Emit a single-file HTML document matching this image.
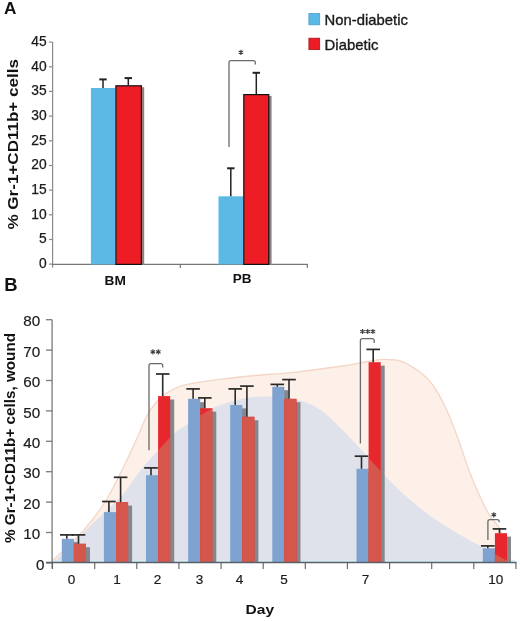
<!DOCTYPE html>
<html><head><meta charset="utf-8"><style>
html,body{margin:0;padding:0;background:#fff;width:520px;height:621px;overflow:hidden;}
svg{display:block;font-family:"Liberation Sans", sans-serif;will-change:transform;}
</style></head><body>
<svg width="520" height="621" viewBox="0 0 520 621">
<rect width="520" height="621" fill="#fff"/>
<text x="4" y="14.4" font-size="17.2" font-weight="bold" fill="#111">A</text>
<text x="4.3" y="290.9" font-size="18.4" font-weight="bold" fill="#111">B</text>
<line x1="52.6" y1="42" x2="52.6" y2="267.8" stroke="#8a8a8a" stroke-width="1.2"/>
<line x1="49" y1="42.1" x2="52.6" y2="42.1" stroke="#8a8a8a" stroke-width="1.2"/>
<text x="46.6" y="45.8" font-size="13.8" text-anchor="end" fill="#1a1a1a" stroke="#1a1a1a" stroke-width="0.25">45</text>
<line x1="49" y1="66.8" x2="52.6" y2="66.8" stroke="#8a8a8a" stroke-width="1.2"/>
<text x="46.6" y="70.5" font-size="13.8" text-anchor="end" fill="#1a1a1a" stroke="#1a1a1a" stroke-width="0.25">40</text>
<line x1="49" y1="91.4" x2="52.6" y2="91.4" stroke="#8a8a8a" stroke-width="1.2"/>
<text x="46.6" y="95.1" font-size="13.8" text-anchor="end" fill="#1a1a1a" stroke="#1a1a1a" stroke-width="0.25">35</text>
<line x1="49" y1="116.1" x2="52.6" y2="116.1" stroke="#8a8a8a" stroke-width="1.2"/>
<text x="46.6" y="119.8" font-size="13.8" text-anchor="end" fill="#1a1a1a" stroke="#1a1a1a" stroke-width="0.25">30</text>
<line x1="49" y1="140.8" x2="52.6" y2="140.8" stroke="#8a8a8a" stroke-width="1.2"/>
<text x="46.6" y="144.5" font-size="13.8" text-anchor="end" fill="#1a1a1a" stroke="#1a1a1a" stroke-width="0.25">25</text>
<line x1="49" y1="165.5" x2="52.6" y2="165.5" stroke="#8a8a8a" stroke-width="1.2"/>
<text x="46.6" y="169.2" font-size="13.8" text-anchor="end" fill="#1a1a1a" stroke="#1a1a1a" stroke-width="0.25">20</text>
<line x1="49" y1="190.1" x2="52.6" y2="190.1" stroke="#8a8a8a" stroke-width="1.2"/>
<text x="46.6" y="193.8" font-size="13.8" text-anchor="end" fill="#1a1a1a" stroke="#1a1a1a" stroke-width="0.25">15</text>
<line x1="49" y1="214.8" x2="52.6" y2="214.8" stroke="#8a8a8a" stroke-width="1.2"/>
<text x="46.6" y="218.5" font-size="13.8" text-anchor="end" fill="#1a1a1a" stroke="#1a1a1a" stroke-width="0.25">10</text>
<line x1="49" y1="239.5" x2="52.6" y2="239.5" stroke="#8a8a8a" stroke-width="1.2"/>
<text x="46.6" y="243.2" font-size="13.8" text-anchor="end" fill="#1a1a1a" stroke="#1a1a1a" stroke-width="0.25">5</text>
<line x1="49" y1="264.1" x2="52.6" y2="264.1" stroke="#8a8a8a" stroke-width="1.2"/>
<text x="46.6" y="267.8" font-size="13.8" text-anchor="end" fill="#1a1a1a" stroke="#1a1a1a" stroke-width="0.25">0</text>
<line x1="52" y1="264.4" x2="307.6" y2="264.4" stroke="#777" stroke-width="1.3"/>
<line x1="180.3" y1="264" x2="180.3" y2="268" stroke="#777" stroke-width="1.2"/>
<line x1="307.3" y1="264" x2="307.3" y2="268" stroke="#777" stroke-width="1.2"/>
<rect x="90.9" y="88.0" width="24.4" height="176.4" fill="#5cb8e4"/>
<rect x="117.5" y="87.2" width="26.7" height="177.4" fill="#8a8488"/>
<rect x="115.9" y="85.8" width="25.5" height="178.6" fill="#ee1c25" stroke="#111" stroke-width="1.2"/>
<rect x="218.5" y="196.3" width="24.7" height="68.1" fill="#5cb8e4"/>
<rect x="245.4" y="96.0" width="26.2" height="168.6" fill="#8a8488"/>
<rect x="243.8" y="94.6" width="25.0" height="169.8" fill="#ee1c25" stroke="#111" stroke-width="1.2"/>
<line x1="103.0" y1="79.4" x2="103.0" y2="88.0" stroke="#222" stroke-width="1.5"/>
<line x1="99.3" y1="79.4" x2="106.7" y2="79.4" stroke="#222" stroke-width="2"/>
<line x1="128.3" y1="78.1" x2="128.3" y2="85.2" stroke="#222" stroke-width="1.5"/>
<line x1="124.6" y1="78.1" x2="132.0" y2="78.1" stroke="#222" stroke-width="2"/>
<line x1="230.8" y1="168.3" x2="230.8" y2="196.3" stroke="#222" stroke-width="1.5"/>
<line x1="227.1" y1="168.3" x2="234.5" y2="168.3" stroke="#222" stroke-width="2"/>
<line x1="256.3" y1="72.8" x2="256.3" y2="94.0" stroke="#222" stroke-width="1.5"/>
<line x1="252.6" y1="72.8" x2="260.0" y2="72.8" stroke="#222" stroke-width="2"/>
<path d="M229.0,147.0 V62.6 Q229.0,60.6 231.0,60.6 H253.3 Q255.3,60.6 255.3,62.6 V64.5" fill="none" stroke="#6a6a6a" stroke-width="1.3"/>
<path d="M240.90,49.70 L240.90,54.90 M238.65,51.00 L243.15,53.60 M243.15,51.00 L238.65,53.60" stroke="#3a3a3a" stroke-width="1.1" fill="none"/>
<text x="115.2" y="285" font-size="13.7" font-weight="bold" text-anchor="middle" fill="#111">BM</text>
<text x="242.1" y="282.8" font-size="13.5" font-weight="bold" text-anchor="middle" fill="#111">PB</text>
<text transform="translate(17.8,144.3) rotate(-90)" font-size="13.8" font-weight="bold" text-anchor="middle" textLength="170.5" lengthAdjust="spacingAndGlyphs" fill="#111">% Gr-1+CD11b+ cells</text>
<rect x="308.9" y="13.5" width="10.8" height="11.3" fill="#5cb8e4" stroke="#4a9fcc" stroke-width="0.8"/>
<rect x="308.9" y="38.2" width="10.8" height="11.4" fill="#ee1c25" stroke="#a8141c" stroke-width="0.8"/>
<text x="324.6" y="25.2" font-size="14.6" textLength="83.3" lengthAdjust="spacingAndGlyphs" fill="#1a1a1a" stroke="#1a1a1a" stroke-width="0.35">Non-diabetic</text>
<text x="324.6" y="49.9" font-size="14.6" textLength="53.8" lengthAdjust="spacingAndGlyphs" fill="#1a1a1a" stroke="#1a1a1a" stroke-width="0.35">Diabetic</text>
<defs><clipPath id="gclip"><path d="M52.5,563.0 C53.4,562.2 52.0,563.9 58.0,558.0 C64.0,552.1 78.0,537.8 88.5,527.5 C99.0,517.2 112.2,506.2 121.0,496.5 C129.8,486.8 134.5,477.5 141.0,469.5 C147.5,461.5 154.5,454.5 160.0,448.5 C165.5,442.5 169.3,437.6 174.0,433.5 C178.7,429.4 182.7,427.6 188.0,424.0 C193.3,420.4 200.4,415.2 206.0,412.0 C211.6,408.8 215.8,406.7 221.5,404.6 C227.2,402.5 234.4,400.5 240.0,399.2 C245.6,397.9 250.3,397.4 255.0,397.0 C259.7,396.6 263.3,396.4 268.0,396.5 C272.7,396.6 277.7,396.8 283.0,397.5 C288.3,398.2 293.8,398.5 300.0,400.5 C306.2,402.5 313.2,404.8 320.0,409.5 C326.8,414.2 333.8,421.4 341.0,428.5 C348.2,435.6 356.2,444.2 363.5,452.0 C370.8,459.8 377.6,468.1 384.6,475.4 C391.7,482.7 398.7,489.7 405.8,496.0 C412.9,502.3 420.0,508.1 427.0,513.4 C434.0,518.6 440.8,523.0 448.0,527.5 C455.2,532.0 463.8,537.1 470.0,540.5 C476.2,543.9 479.8,545.2 485.0,548.0 C490.2,550.8 496.5,555.0 501.0,557.5 C505.5,560.0 510.2,562.1 512.0,563.0 L512.0,563 Z"/></clipPath></defs>
<path d="M52.5,562.5 C52.9,561.8 49.8,563.9 55.0,558.5 C60.2,553.1 75.4,539.8 84.0,530.0 C92.6,520.2 99.7,510.5 106.5,499.5 C113.3,488.5 119.8,474.6 125.0,464.0 C130.2,453.4 134.4,443.9 138.0,436.0 C141.6,428.1 143.2,422.4 146.5,416.5 C149.8,410.6 154.4,404.3 157.7,400.5 C160.9,396.7 162.6,395.8 166.0,393.5 C169.4,391.2 174.0,388.5 178.4,386.8 C182.8,385.1 185.5,384.6 192.4,383.3 C199.3,382.1 209.5,380.6 220.0,379.3 C230.5,378.0 243.1,376.7 255.4,375.5 C267.7,374.3 279.3,373.9 293.8,372.3 C308.3,370.7 330.0,367.8 342.3,366.0 C354.6,364.2 360.6,362.6 367.7,361.5 C374.8,360.4 379.0,359.4 384.6,359.4 C390.2,359.4 395.9,359.4 401.5,361.3 C407.1,363.2 413.3,367.2 418.4,371.0 C423.5,374.8 427.4,377.8 432.0,384.0 C436.6,390.2 441.6,399.2 446.0,408.5 C450.4,417.8 454.6,429.6 458.5,440.0 C462.4,450.4 465.3,460.9 469.2,471.1 C473.1,481.3 478.5,493.4 482.0,501.0 C485.5,508.6 487.6,512.1 490.4,516.5 C493.2,520.9 496.4,523.2 498.8,527.5 C501.2,531.8 503.3,536.1 505.0,542.0 C506.7,547.9 508.3,559.5 509.0,563.0 Z" fill="#fdf0e8"/>
<path d="M52.5,562.5 C52.9,561.8 49.8,563.9 55.0,558.5 C60.2,553.1 75.4,539.8 84.0,530.0 C92.6,520.2 99.7,510.5 106.5,499.5 C113.3,488.5 119.8,474.6 125.0,464.0 C130.2,453.4 134.4,443.9 138.0,436.0 C141.6,428.1 143.2,422.4 146.5,416.5 C149.8,410.6 154.4,404.3 157.7,400.5 C160.9,396.7 162.6,395.8 166.0,393.5 C169.4,391.2 174.0,388.5 178.4,386.8 C182.8,385.1 185.5,384.6 192.4,383.3 C199.3,382.1 209.5,380.6 220.0,379.3 C230.5,378.0 243.1,376.7 255.4,375.5 C267.7,374.3 279.3,373.9 293.8,372.3 C308.3,370.7 330.0,367.8 342.3,366.0 C354.6,364.2 360.6,362.6 367.7,361.5 C374.8,360.4 379.0,359.4 384.6,359.4 C390.2,359.4 395.9,359.4 401.5,361.3 C407.1,363.2 413.3,367.2 418.4,371.0 C423.5,374.8 427.4,377.8 432.0,384.0 C436.6,390.2 441.6,399.2 446.0,408.5 C450.4,417.8 454.6,429.6 458.5,440.0 C462.4,450.4 465.3,460.9 469.2,471.1 C473.1,481.3 478.5,493.4 482.0,501.0 C485.5,508.6 487.6,512.1 490.4,516.5 C493.2,520.9 496.4,523.2 498.8,527.5 C501.2,531.8 503.3,536.1 505.0,542.0 C506.7,547.9 508.3,559.5 509.0,563.0" fill="none" stroke="#f3d6c8" stroke-width="1.3"/>
<path d="M52.5,563.0 C53.4,562.2 52.0,563.9 58.0,558.0 C64.0,552.1 78.0,537.8 88.5,527.5 C99.0,517.2 112.2,506.2 121.0,496.5 C129.8,486.8 134.5,477.5 141.0,469.5 C147.5,461.5 154.5,454.5 160.0,448.5 C165.5,442.5 169.3,437.6 174.0,433.5 C178.7,429.4 182.7,427.6 188.0,424.0 C193.3,420.4 200.4,415.2 206.0,412.0 C211.6,408.8 215.8,406.7 221.5,404.6 C227.2,402.5 234.4,400.5 240.0,399.2 C245.6,397.9 250.3,397.4 255.0,397.0 C259.7,396.6 263.3,396.4 268.0,396.5 C272.7,396.6 277.7,396.8 283.0,397.5 C288.3,398.2 293.8,398.5 300.0,400.5 C306.2,402.5 313.2,404.8 320.0,409.5 C326.8,414.2 333.8,421.4 341.0,428.5 C348.2,435.6 356.2,444.2 363.5,452.0 C370.8,459.8 377.6,468.1 384.6,475.4 C391.7,482.7 398.7,489.7 405.8,496.0 C412.9,502.3 420.0,508.1 427.0,513.4 C434.0,518.6 440.8,523.0 448.0,527.5 C455.2,532.0 463.8,537.1 470.0,540.5 C476.2,543.9 479.8,545.2 485.0,548.0 C490.2,550.8 496.5,555.0 501.0,557.5 C505.5,560.0 510.2,562.1 512.0,563.0 L512.0,563 Z" fill="#dfe2eb"/>
<rect x="53" y="560.2" width="462" height="1.4" fill="#d4ebf3"/>
<rect x="65.8" y="542.1" width="12.1" height="20.7" fill="#86878c"/>
<rect x="77.9" y="547.2" width="12.1" height="15.7" fill="#86878c"/>
<rect x="61.8" y="538.8" width="12.1" height="24.1" fill="#7ea3d0"/>
<rect x="73.9" y="543.8" width="12.1" height="19.1" fill="#e8272c"/>
<rect x="73.9" y="543.8" width="12.1" height="19.1" fill="#d5574c" clip-path="url(#gclip)"/>
<rect x="107.9" y="515.5" width="12.1" height="47.4" fill="#86878c"/>
<rect x="120.0" y="505.6" width="12.1" height="57.3" fill="#86878c"/>
<rect x="103.9" y="512.1" width="12.1" height="50.8" fill="#7ea3d0"/>
<rect x="116.0" y="502.2" width="12.1" height="60.7" fill="#e8272c"/>
<rect x="116.0" y="502.2" width="12.1" height="60.7" fill="#d5574c" clip-path="url(#gclip)"/>
<rect x="150.0" y="478.6" width="12.1" height="84.3" fill="#86878c"/>
<rect x="162.1" y="399.5" width="12.1" height="163.4" fill="#86878c"/>
<rect x="146.0" y="475.2" width="12.1" height="87.7" fill="#7ea3d0"/>
<rect x="158.1" y="396.1" width="12.1" height="166.8" fill="#e8272c"/>
<rect x="158.1" y="396.1" width="12.1" height="166.8" fill="#d5574c" clip-path="url(#gclip)"/>
<rect x="192.1" y="402.2" width="12.1" height="160.7" fill="#86878c"/>
<rect x="204.2" y="411.6" width="12.1" height="151.3" fill="#86878c"/>
<rect x="188.1" y="398.8" width="12.1" height="164.1" fill="#7ea3d0"/>
<rect x="200.2" y="408.2" width="12.1" height="154.7" fill="#e8272c"/>
<rect x="200.2" y="408.2" width="12.1" height="154.7" fill="#d5574c" clip-path="url(#gclip)"/>
<rect x="234.2" y="408.4" width="12.1" height="154.5" fill="#86878c"/>
<rect x="246.3" y="420.2" width="12.1" height="142.7" fill="#86878c"/>
<rect x="230.2" y="405.0" width="12.1" height="157.9" fill="#7ea3d0"/>
<rect x="242.3" y="416.8" width="12.1" height="146.1" fill="#e8272c"/>
<rect x="242.3" y="416.8" width="12.1" height="146.1" fill="#d5574c" clip-path="url(#gclip)"/>
<rect x="276.3" y="390.2" width="12.1" height="172.7" fill="#86878c"/>
<rect x="288.4" y="402.2" width="12.1" height="160.7" fill="#86878c"/>
<rect x="272.3" y="386.8" width="12.1" height="176.1" fill="#7ea3d0"/>
<rect x="284.4" y="398.8" width="12.1" height="164.1" fill="#e8272c"/>
<rect x="284.4" y="398.8" width="12.1" height="164.1" fill="#d5574c" clip-path="url(#gclip)"/>
<rect x="360.5" y="472.2" width="12.1" height="90.7" fill="#86878c"/>
<rect x="372.6" y="365.6" width="12.1" height="197.3" fill="#86878c"/>
<rect x="356.5" y="468.8" width="12.1" height="94.1" fill="#7ea3d0"/>
<rect x="368.6" y="362.2" width="12.1" height="200.7" fill="#e8272c"/>
<rect x="368.6" y="362.2" width="12.1" height="200.7" fill="#d5574c" clip-path="url(#gclip)"/>
<rect x="486.8" y="551.7" width="12.1" height="11.2" fill="#86878c"/>
<rect x="498.9" y="536.6" width="12.1" height="26.3" fill="#86878c"/>
<rect x="482.8" y="548.3" width="12.1" height="14.6" fill="#7ea3d0"/>
<rect x="494.9" y="533.2" width="12.1" height="29.7" fill="#e8272c"/>
<rect x="494.9" y="533.2" width="12.1" height="29.7" fill="#d5574c" clip-path="url(#gclip)"/>
<line x1="66.8" y1="534.9" x2="66.8" y2="538.8" stroke="#2a2a2a" stroke-width="1.6"/>
<line x1="60.0" y1="534.9" x2="73.6" y2="534.9" stroke="#2a2a2a" stroke-width="1.7"/>
<line x1="78.5" y1="534.9" x2="78.5" y2="543.8" stroke="#2a2a2a" stroke-width="1.6"/>
<line x1="71.7" y1="534.9" x2="85.3" y2="534.9" stroke="#2a2a2a" stroke-width="1.7"/>
<line x1="108.9" y1="501.5" x2="108.9" y2="512.1" stroke="#2a2a2a" stroke-width="1.6"/>
<line x1="102.1" y1="501.5" x2="115.7" y2="501.5" stroke="#2a2a2a" stroke-width="1.7"/>
<line x1="120.6" y1="477.3" x2="120.6" y2="502.2" stroke="#2a2a2a" stroke-width="1.6"/>
<line x1="113.8" y1="477.3" x2="127.4" y2="477.3" stroke="#2a2a2a" stroke-width="1.7"/>
<line x1="151.0" y1="467.9" x2="151.0" y2="475.2" stroke="#2a2a2a" stroke-width="1.6"/>
<line x1="144.2" y1="467.9" x2="157.8" y2="467.9" stroke="#2a2a2a" stroke-width="1.7"/>
<line x1="162.7" y1="374.0" x2="162.7" y2="396.1" stroke="#2a2a2a" stroke-width="1.6"/>
<line x1="155.9" y1="374.0" x2="169.5" y2="374.0" stroke="#2a2a2a" stroke-width="1.7"/>
<line x1="193.1" y1="388.9" x2="193.1" y2="398.8" stroke="#2a2a2a" stroke-width="1.6"/>
<line x1="186.3" y1="388.9" x2="199.9" y2="388.9" stroke="#2a2a2a" stroke-width="1.7"/>
<line x1="204.8" y1="397.9" x2="204.8" y2="408.2" stroke="#2a2a2a" stroke-width="1.6"/>
<line x1="198.0" y1="397.9" x2="211.6" y2="397.9" stroke="#2a2a2a" stroke-width="1.7"/>
<line x1="235.2" y1="388.9" x2="235.2" y2="405.0" stroke="#2a2a2a" stroke-width="1.6"/>
<line x1="228.4" y1="388.9" x2="242.0" y2="388.9" stroke="#2a2a2a" stroke-width="1.7"/>
<line x1="246.9" y1="386.1" x2="246.9" y2="416.8" stroke="#2a2a2a" stroke-width="1.6"/>
<line x1="240.1" y1="386.1" x2="253.7" y2="386.1" stroke="#2a2a2a" stroke-width="1.7"/>
<line x1="277.3" y1="384.4" x2="277.3" y2="386.8" stroke="#2a2a2a" stroke-width="1.6"/>
<line x1="270.5" y1="384.4" x2="284.1" y2="384.4" stroke="#2a2a2a" stroke-width="1.7"/>
<line x1="289.0" y1="379.6" x2="289.0" y2="398.8" stroke="#2a2a2a" stroke-width="1.6"/>
<line x1="282.2" y1="379.6" x2="295.8" y2="379.6" stroke="#2a2a2a" stroke-width="1.7"/>
<line x1="361.5" y1="456.2" x2="361.5" y2="468.8" stroke="#2a2a2a" stroke-width="1.6"/>
<line x1="354.7" y1="456.2" x2="368.3" y2="456.2" stroke="#2a2a2a" stroke-width="1.7"/>
<line x1="373.2" y1="349.4" x2="373.2" y2="362.2" stroke="#2a2a2a" stroke-width="1.6"/>
<line x1="366.4" y1="349.4" x2="380.0" y2="349.4" stroke="#2a2a2a" stroke-width="1.7"/>
<line x1="487.8" y1="545.9" x2="487.8" y2="548.3" stroke="#2a2a2a" stroke-width="1.6"/>
<line x1="481.0" y1="545.9" x2="494.6" y2="545.9" stroke="#2a2a2a" stroke-width="1.7"/>
<line x1="499.5" y1="528.9" x2="499.5" y2="533.2" stroke="#2a2a2a" stroke-width="1.6"/>
<line x1="492.7" y1="528.9" x2="506.3" y2="528.9" stroke="#2a2a2a" stroke-width="1.7"/>
<path d="M149.0,450.2 V365.6 Q149.0,363.6 151.0,363.6 H160.7 Q162.7,363.6 162.7,365.6 V367.5" fill="none" stroke="#6a6a6a" stroke-width="1.3"/>
<path d="M152.90,349.30 L152.90,354.50 M150.65,350.60 L155.15,353.20 M155.15,350.60 L150.65,353.20" stroke="#3a3a3a" stroke-width="1.1" fill="none"/>
<path d="M158.30,349.30 L158.30,354.50 M156.05,350.60 L160.55,353.20 M160.55,350.60 L156.05,353.20" stroke="#3a3a3a" stroke-width="1.1" fill="none"/>
<path d="M360.4,443.4 V340.6 Q360.4,338.6 362.4,338.6 H372.2 Q374.2,338.6 374.2,340.6 V342.9" fill="none" stroke="#6a6a6a" stroke-width="1.3"/>
<path d="M362.50,328.90 L362.50,334.10 M360.25,330.20 L364.75,332.80 M364.75,330.20 L360.25,332.80" stroke="#3a3a3a" stroke-width="1.1" fill="none"/>
<path d="M367.70,328.90 L367.70,334.10 M365.45,330.20 L369.95,332.80 M369.95,330.20 L365.45,332.80" stroke="#3a3a3a" stroke-width="1.1" fill="none"/>
<path d="M372.90,328.90 L372.90,334.10 M370.65,330.20 L375.15,332.80 M375.15,330.20 L370.65,332.80" stroke="#3a3a3a" stroke-width="1.1" fill="none"/>
<path d="M487.9,540.0 V521.7 Q487.9,519.7 489.9,519.7 H497.2 Q499.2,519.7 499.2,521.7 V522.3" fill="none" stroke="#6a6a6a" stroke-width="1.3"/>
<path d="M493.80,512.20 L493.80,517.40 M491.55,513.50 L496.05,516.10 M496.05,513.50 L491.55,516.10" stroke="#3a3a3a" stroke-width="1.1" fill="none"/>
<line x1="52.1" y1="319.7" x2="52.1" y2="568.5" stroke="#7a7a7a" stroke-width="1.3"/>
<line x1="46" y1="562.9" x2="52.1" y2="562.9" stroke="#7a7a7a" stroke-width="1.3"/>
<text x="44.4" y="569.6" font-size="15.2" text-anchor="end" fill="#1a1a1a" stroke="#1a1a1a" stroke-width="0.2">0</text>
<line x1="46" y1="532.5" x2="52.1" y2="532.5" stroke="#7a7a7a" stroke-width="1.3"/>
<text x="40.2" y="539.2" font-size="15.2" text-anchor="end" fill="#1a1a1a" stroke="#1a1a1a" stroke-width="0.2">10</text>
<line x1="46" y1="502.1" x2="52.1" y2="502.1" stroke="#7a7a7a" stroke-width="1.3"/>
<text x="40.2" y="508.8" font-size="15.2" text-anchor="end" fill="#1a1a1a" stroke="#1a1a1a" stroke-width="0.2">20</text>
<line x1="46" y1="471.7" x2="52.1" y2="471.7" stroke="#7a7a7a" stroke-width="1.3"/>
<text x="40.2" y="478.4" font-size="15.2" text-anchor="end" fill="#1a1a1a" stroke="#1a1a1a" stroke-width="0.2">30</text>
<line x1="46" y1="441.3" x2="52.1" y2="441.3" stroke="#7a7a7a" stroke-width="1.3"/>
<text x="40.2" y="448.0" font-size="15.2" text-anchor="end" fill="#1a1a1a" stroke="#1a1a1a" stroke-width="0.2">40</text>
<line x1="46" y1="410.9" x2="52.1" y2="410.9" stroke="#7a7a7a" stroke-width="1.3"/>
<text x="40.2" y="417.6" font-size="15.2" text-anchor="end" fill="#1a1a1a" stroke="#1a1a1a" stroke-width="0.2">50</text>
<line x1="46" y1="380.5" x2="52.1" y2="380.5" stroke="#7a7a7a" stroke-width="1.3"/>
<text x="40.2" y="387.2" font-size="15.2" text-anchor="end" fill="#1a1a1a" stroke="#1a1a1a" stroke-width="0.2">60</text>
<line x1="46" y1="350.1" x2="52.1" y2="350.1" stroke="#7a7a7a" stroke-width="1.3"/>
<text x="40.2" y="356.8" font-size="15.2" text-anchor="end" fill="#1a1a1a" stroke="#1a1a1a" stroke-width="0.2">70</text>
<line x1="46" y1="319.7" x2="52.1" y2="319.7" stroke="#7a7a7a" stroke-width="1.3"/>
<text x="40.2" y="326.4" font-size="15.2" text-anchor="end" fill="#1a1a1a" stroke="#1a1a1a" stroke-width="0.2">80</text>
<line x1="46" y1="562.5" x2="516.6" y2="562.5" stroke="#59606a" stroke-width="1.5"/>
<line x1="52.5" y1="562.5" x2="52.5" y2="569" stroke="#666" stroke-width="1.15"/>
<line x1="94.7" y1="562.5" x2="94.7" y2="569" stroke="#666" stroke-width="1.15"/>
<line x1="136.8" y1="562.5" x2="136.8" y2="569" stroke="#666" stroke-width="1.15"/>
<line x1="178.9" y1="562.5" x2="178.9" y2="569" stroke="#666" stroke-width="1.15"/>
<line x1="221.1" y1="562.5" x2="221.1" y2="569" stroke="#666" stroke-width="1.15"/>
<line x1="263.2" y1="562.5" x2="263.2" y2="569" stroke="#666" stroke-width="1.15"/>
<line x1="305.3" y1="562.5" x2="305.3" y2="569" stroke="#666" stroke-width="1.15"/>
<line x1="347.4" y1="562.5" x2="347.4" y2="569" stroke="#666" stroke-width="1.15"/>
<line x1="389.6" y1="562.5" x2="389.6" y2="569" stroke="#666" stroke-width="1.15"/>
<line x1="431.7" y1="562.5" x2="431.7" y2="569" stroke="#666" stroke-width="1.15"/>
<line x1="473.8" y1="562.5" x2="473.8" y2="569" stroke="#666" stroke-width="1.15"/>
<line x1="515.9" y1="562.5" x2="515.9" y2="569" stroke="#666" stroke-width="1.15"/>
<text x="71.5" y="583.8" font-size="13.5" text-anchor="middle" fill="#1a1a1a" stroke="#1a1a1a" stroke-width="0.2">0</text>
<text x="117.0" y="583.8" font-size="13.5" text-anchor="middle" fill="#1a1a1a" stroke="#1a1a1a" stroke-width="0.2">1</text>
<text x="157.4" y="583.8" font-size="13.5" text-anchor="middle" fill="#1a1a1a" stroke="#1a1a1a" stroke-width="0.2">2</text>
<text x="199.6" y="583.8" font-size="13.5" text-anchor="middle" fill="#1a1a1a" stroke="#1a1a1a" stroke-width="0.2">3</text>
<text x="239.4" y="583.8" font-size="13.5" text-anchor="middle" fill="#1a1a1a" stroke="#1a1a1a" stroke-width="0.2">4</text>
<text x="284.1" y="583.8" font-size="13.5" text-anchor="middle" fill="#1a1a1a" stroke="#1a1a1a" stroke-width="0.2">5</text>
<text x="365.4" y="583.8" font-size="13.5" text-anchor="middle" fill="#1a1a1a" stroke="#1a1a1a" stroke-width="0.2">7</text>
<text x="495.7" y="583.8" font-size="13.5" text-anchor="middle" fill="#1a1a1a" stroke="#1a1a1a" stroke-width="0.2">10</text>
<text x="259.9" y="613.6" font-size="13" font-weight="bold" text-anchor="middle" textLength="28.6" lengthAdjust="spacingAndGlyphs" fill="#111">Day</text>
<text transform="translate(14.6,438) rotate(-90)" font-size="13.8" font-weight="bold" text-anchor="middle" textLength="210" lengthAdjust="spacingAndGlyphs" fill="#111">% Gr-1+CD11b+ cells, wound</text>
</svg>
</body></html>
